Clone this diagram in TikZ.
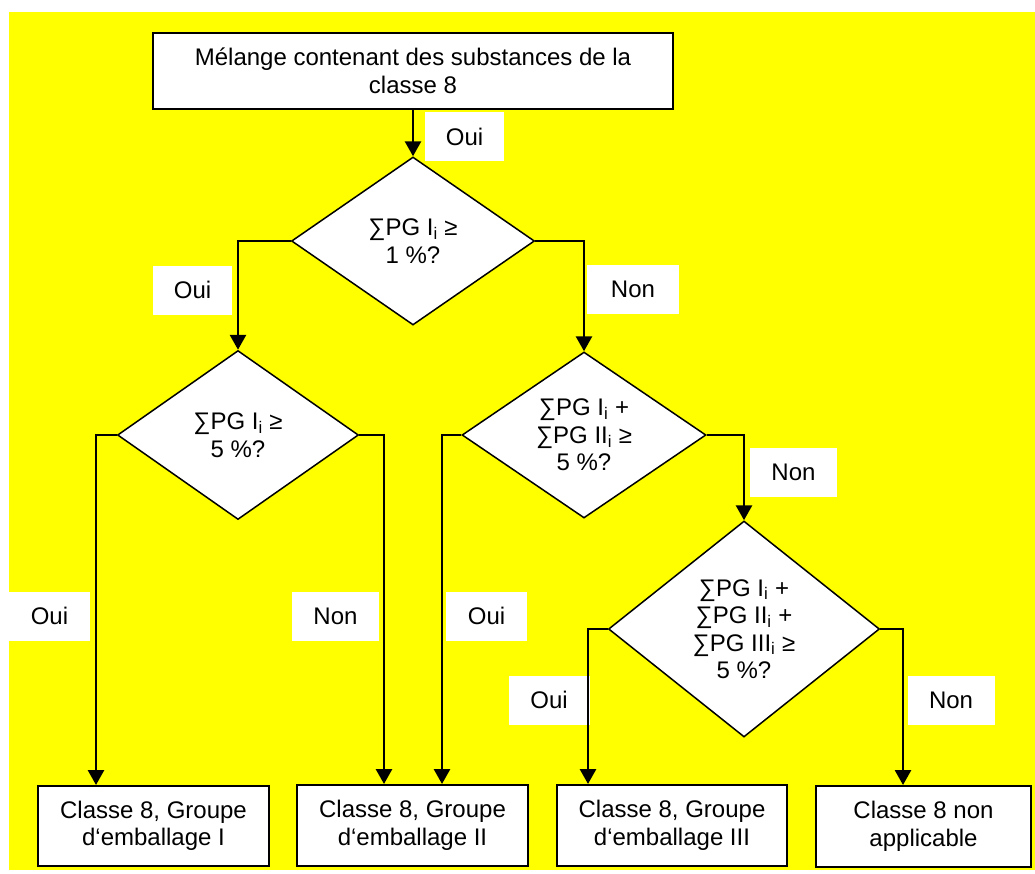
\documentclass[tikz,border=0pt]{standalone}
\usepackage{fontspec}
\setmainfont{Liberation Sans}
\usetikzlibrary{shapes.geometric,arrows.meta}
\definecolor{sheet}{RGB}{255,255,0}

\begin{document}
\begin{tikzpicture}[x=1pt, y=-1pt,
	every node/.style={font=\fontsize{24}{27.5}\selectfont, align=center},
	box/.style={draw, fill=white, line width=2pt, inner sep=0pt},
	question/.style={draw, fill=white, diamond, line width=1.5pt, inner sep=0pt},
	answer/.style={fill=white, minimum height=49, inner sep=0pt},
	flow/.style={line width=2.8pt, -{Triangle[width=16pt,length=15pt]}}]
	\useasboundingbox (0,0) rectangle (1035,873);
	\fill[sheet] (9,12) rectangle (1035,870);
	% start and tests
	\node[box, minimum width=520, minimum height=76] (mix) at (413,71)
		{M\'elange contenant des substances de la\\classe 8};
	\node[question, minimum width=243, minimum height=168, aspect=1.45] (q1) at (413,241)
		{∑PG I\textsubscript{i} ≥\\1 \%?};
	\node[question, minimum width=241, minimum height=169, aspect=1.43] (q2) at (238,435)
		{∑PG I\textsubscript{i} ≥\\5 \%?};
	\node[question, minimum width=244, minimum height=166, aspect=1.47] (q3) at (584,435)
		{∑PG I\textsubscript{i} +\\∑PG II\textsubscript{i} ≥\\5 \%?};
	\node[question, minimum width=271, minimum height=216, aspect=1.25] (q4) at (744,629)
		{∑PG I\textsubscript{i} +\\∑PG II\textsubscript{i} +\\∑PG III\textsubscript{i} ≥\\5 \%?};
	% results
	\node[box, minimum width=231, minimum height=80] (pg1) at (153.5,826) {Classe 8, Groupe\\d‘emballage I};
	\node[box, minimum width=231, minimum height=81] (pg2) at (412.5,825.5) {Classe 8, Groupe\\d‘emballage II};
	\node[box, minimum width=230, minimum height=81] (pg3) at (672,825.5) {Classe 8, Groupe\\d‘emballage III};
	\node[box, minimum width=215, minimum height=81] (na) at (923.5,826.5) {Classe 8 non\\applicable};
	% answers
	\node[answer, minimum width=79] (a1) at (464.5,136.5) {Oui};
	\node[answer, minimum width=79] (a2) at (192.5,290) {Oui};
	\node[answer, minimum width=92] (a3) at (633,289) {Non};
	\node[answer, minimum width=87] (a4) at (793.5,472) {Non};
	\node[answer, minimum width=81] (a5) at (49.5,616) {Oui};
	\node[answer, minimum width=87] (a6) at (335.5,616) {Non};
	\node[answer, minimum width=81] (a7) at (486.5,616) {Oui};
	\node[answer, minimum width=81] (a8) at (549,700) {Oui};
	\node[answer, minimum width=87] (a9) at (951,700) {Non};
	% connectors
	\draw[flow] (mix) -- (q1);
	\draw[flow] (q1.west) -| (q2.north);
	\draw[flow] (q1.east) -| (q3.north);
	\draw[flow] (q2.west) -| ([xshift=-57.5]pg1.north);
	\draw[flow] (q2.east) -| ([xshift=-28.5]pg2.north);
	\draw[flow] (q3.west) -| ([xshift=29.5]pg2.north);
	\draw[flow] (q3.east) -| (q4.north);
	\draw[flow] (q4.west) -| ([xshift=-84]pg3.north);
	\draw[flow] (q4.east) -| ([xshift=-20.5]na.north);
\end{tikzpicture}
\end{document}
